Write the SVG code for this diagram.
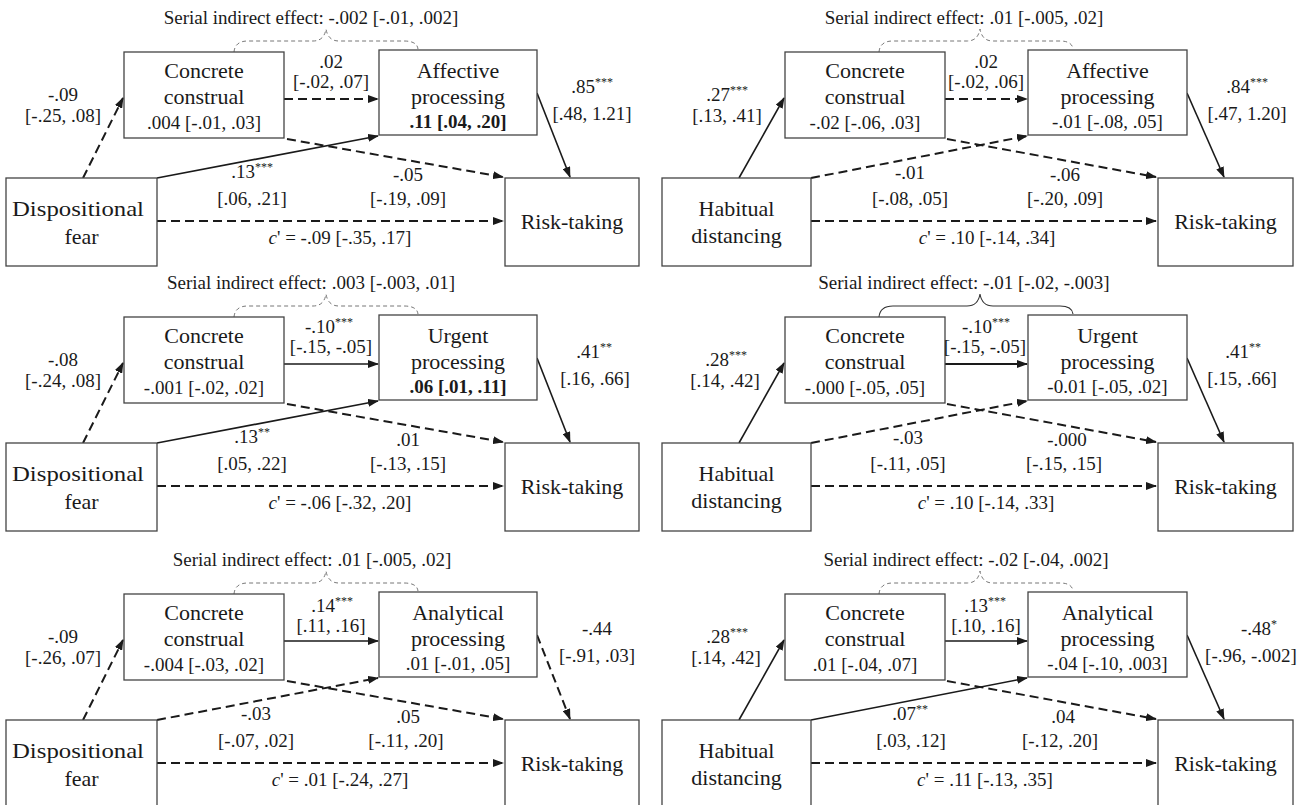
<svg xmlns="http://www.w3.org/2000/svg" width="1298" height="805" viewBox="0 0 1298 805">
<defs>
<marker id="ah" markerUnits="userSpaceOnUse" markerWidth="11" markerHeight="8" viewBox="0 0 11 8" refX="10" refY="4" orient="auto">
<path d="M0,0 L11,4 L0,8 z" fill="#1a1a1a"/>
</marker>
<style>
.box{fill:#fff;stroke:#444;stroke-width:1.3}
text{font-family:"Liberation Serif","Times New Roman",serif;fill:#1a1a1a}
.bt{font-size:22px;text-anchor:middle}
.lb{font-size:19px;text-anchor:middle}
.b{font-weight:bold}
.sp{font-size:12px}
.dash{fill:none;stroke:#1a1a1a;stroke-width:2;stroke-dasharray:9 5;marker-end:url(#ah)}
.solid{fill:none;stroke:#1a1a1a;stroke-width:1.6;marker-end:url(#ah)}
.thick{stroke-width:2.2}
.brace{fill:none;stroke:#777;stroke-width:1;stroke-dasharray:4 3}
.brace-s{fill:none;stroke:#333;stroke-width:1.1}
</style>
</defs>
<rect width="1298" height="805" fill="#fff"/>

<!-- ===== Row 1 Left ===== -->
<g id="panel-1L">
<text class="lb" x="311" y="24">Serial indirect effect: -.002 [-.01, .002]</text>
<path class="brace" d="M234,52 Q235,41 248,41 L313,41 Q324,41 326,29 Q328,41 339,41 L404,41 Q417,41 418,49"/>
<g id="p1L-edges">
<path class="dash" d="M83,178 L123,98"/>
<path class="dash" d="M284,99 L378,99"/>
<path class="solid" d="M157,178 L378,136"/>
<path class="dash" d="M287,139 L503,177"/>
<path class="solid" d="M537,93 L570,177"/>
<path class="dash" d="M157,221 L503,221"/>
</g>
<g id="p1L-x"><rect class="box" x="6" y="178" width="151" height="88"/><text class="bt" x="78" y="216" textLength="132" lengthAdjust="spacingAndGlyphs">Dispositional</text><text class="bt" x="81.5" y="244">fear</text></g>
<g id="p1L-m1"><rect class="box" x="124" y="52" width="160" height="86"/><text class="bt" x="204" y="78">Concrete</text><text class="bt" x="204" y="104">construal</text><text class="lb" x="204" y="129">.004 [-.01, .03]</text></g>
<g id="p1L-m2"><rect class="box" x="379" y="50" width="158" height="85"/><text class="bt" x="458" y="78">Affective</text><text class="bt" x="458" y="104">processing</text><text class="lb b" x="458" y="128">.11 [.04, .20]</text></g>
<g id="p1L-y"><rect class="box" x="505" y="178" width="134" height="88"/><text class="bt" x="572" y="229">Risk-taking</text></g>
<g id="p1L-labels">
<text class="lb" x="63" y="101">-.09</text><text class="lb" x="63" y="122">[-.25, .08]</text>
<text class="lb" x="331" y="68">.02</text><text class="lb" x="331" y="88">[-.02, .07]</text>
<text class="lb" x="252" y="178">.13<tspan class="sp" dy="-7">***</tspan></text><text class="lb" x="252" y="205">[.06, .21]</text>
<text class="lb" x="408" y="181">-.05</text><text class="lb" x="408" y="205">[-.19, .09]</text>
<text class="lb" x="592" y="93">.85<tspan class="sp" dy="-7">***</tspan></text><text class="lb" x="592" y="120">[.48, 1.21]</text>
<text class="lb" x="340" y="244"><tspan font-style="italic">c</tspan>' = -.09 [-.35, .17]</text>
</g>
</g>

<!-- ===== Row 1 Right ===== -->
<g id="panel-1R">
<text class="lb" x="964" y="24">Serial indirect effect: .01 [-.005, .02]</text>
<path class="brace" d="M879,52 Q880,41 893,41 L967,41 Q978,41 980,29 Q982,41 993,41 L1060,41 Q1072,41 1073,49"/>
<g id="p1R-edges">
<path class="solid" d="M739,178 L784,98"/>
<path class="dash" d="M945,99 L1027,99"/>
<path class="dash" d="M811,178 L1027,136"/>
<path class="dash" d="M947,139 L1156,177"/>
<path class="solid" d="M1187,93 L1224,177"/>
<path class="dash" d="M811,221 L1156,221"/>
</g>
<g id="p1R-x"><rect class="box" x="662" y="178" width="149" height="88"/><text class="bt" x="736.5" y="216">Habitual</text><text class="bt" x="736.5" y="243">distancing</text></g>
<g id="p1R-m1"><rect class="box" x="785" y="52" width="160" height="86"/><text class="bt" x="865" y="78">Concrete</text><text class="bt" x="865" y="104">construal</text><text class="lb" x="865" y="129">-.02 [-.06, .03]</text></g>
<g id="p1R-m2"><rect class="box" x="1028" y="50" width="159" height="85"/><text class="bt" x="1107.5" y="78">Affective</text><text class="bt" x="1107.5" y="104">processing</text><text class="lb" x="1107.5" y="128">-.01 [-.08, .05]</text></g>
<g id="p1R-y"><rect class="box" x="1158" y="178" width="135" height="88"/><text class="bt" x="1225.5" y="229">Risk-taking</text></g>
<g id="p1R-labels">
<text class="lb" x="727" y="101">.27<tspan class="sp" dy="-7">***</tspan></text><text class="lb" x="727" y="122">[.13, .41]</text>
<text class="lb" x="986" y="68">.02</text><text class="lb" x="986" y="88">[-.02, .06]</text>
<text class="lb" x="910" y="179">-.01</text><text class="lb" x="910" y="205">[-.08, .05]</text>
<text class="lb" x="1065" y="181">-.06</text><text class="lb" x="1065" y="205">[-.20, .09]</text>
<text class="lb" x="1247" y="93">.84<tspan class="sp" dy="-7">***</tspan></text><text class="lb" x="1247" y="120">[.47, 1.20]</text>
<text class="lb" x="987" y="244"><tspan font-style="italic">c</tspan>' = .10 [-.14, .34]</text>
</g>
</g>

<!-- ===== Row 2 Left ===== -->
<g id="panel-2L" transform="translate(0,265)">
<text class="lb" x="311" y="24">Serial indirect effect: .003 [-.003, .01]</text>
<path class="brace" d="M234,52 Q235,41 248,41 L313,41 Q324,41 326,29 Q328,41 339,41 L404,41 Q417,41 418,49"/>
<g id="p2L-edges">
<path class="dash" d="M83,178 L123,98"/>
<path class="solid" d="M284,99 L378,99"/>
<path class="solid" d="M157,178 L378,136"/>
<path class="dash" d="M287,139 L503,177"/>
<path class="solid" d="M537,93 L570,177"/>
<path class="dash" d="M157,221 L503,221"/>
</g>
<g id="p2L-x"><rect class="box" x="6" y="178" width="151" height="88"/><text class="bt" x="78" y="216" textLength="132" lengthAdjust="spacingAndGlyphs">Dispositional</text><text class="bt" x="81.5" y="244">fear</text></g>
<g id="p2L-m1"><rect class="box" x="124" y="52" width="160" height="86"/><text class="bt" x="204" y="78">Concrete</text><text class="bt" x="204" y="104">construal</text><text class="lb" x="204" y="129">-.001 [-.02, .02]</text></g>
<g id="p2L-m2"><rect class="box" x="379" y="50" width="158" height="85"/><text class="bt" x="458" y="78">Urgent</text><text class="bt" x="458" y="104">processing</text><text class="lb b" x="458" y="128">.06 [.01, .11]</text></g>
<g id="p2L-y"><rect class="box" x="505" y="178" width="134" height="88"/><text class="bt" x="572" y="229">Risk-taking</text></g>
<g id="p2L-labels">
<text class="lb" x="63" y="101">-.08</text><text class="lb" x="63" y="122">[-.24, .08]</text>
<text class="lb" x="329" y="68">-.10<tspan class="sp" dy="-7">***</tspan></text><text class="lb" x="331" y="88">[-.15, -.05]</text>
<text class="lb" x="252" y="178">.13<tspan class="sp" dy="-7">**</tspan></text><text class="lb" x="252" y="205">[.05, .22]</text>
<text class="lb" x="408" y="181">.01</text><text class="lb" x="408" y="205">[-.13, .15]</text>
<text class="lb" x="594" y="93">.41<tspan class="sp" dy="-7">**</tspan></text><text class="lb" x="595" y="120">[.16, .66]</text>
<text class="lb" x="340" y="244"><tspan font-style="italic">c</tspan>' = -.06 [-.32, .20]</text>
</g>
</g>

<!-- ===== Row 2 Right ===== -->
<g id="panel-2R" transform="translate(0,265)">
<text class="lb" x="964" y="24">Serial indirect effect: -.01 [-.02, -.003]</text>
<path class="brace-s" d="M879,52 Q880,41 893,41 L967,41 Q978,41 980,29 Q982,41 993,41 L1060,41 Q1072,41 1073,49"/>
<g id="p2R-edges">
<path class="solid" d="M739,178 L784,98"/>
<path class="solid thick" d="M945,99 L1027,99"/>
<path class="dash" d="M811,178 L1027,136"/>
<path class="dash" d="M947,139 L1156,177"/>
<path class="solid" d="M1187,93 L1224,177"/>
<path class="dash" d="M811,221 L1156,221"/>
</g>
<g id="p2R-x"><rect class="box" x="662" y="178" width="149" height="88"/><text class="bt" x="736.5" y="216">Habitual</text><text class="bt" x="736.5" y="243">distancing</text></g>
<g id="p2R-m1"><rect class="box" x="785" y="52" width="160" height="86"/><text class="bt" x="865" y="78">Concrete</text><text class="bt" x="865" y="104">construal</text><text class="lb" x="865" y="129">-.000 [-.05, .05]</text></g>
<g id="p2R-m2"><rect class="box" x="1028" y="50" width="159" height="85"/><text class="bt" x="1107.5" y="78">Urgent</text><text class="bt" x="1107.5" y="104">processing</text><text class="lb" x="1107.5" y="128">-0.01 [-.05, .02]</text></g>
<g id="p2R-y"><rect class="box" x="1158" y="178" width="135" height="88"/><text class="bt" x="1225.5" y="229">Risk-taking</text></g>
<g id="p2R-labels">
<text class="lb" x="726" y="101">.28<tspan class="sp" dy="-7">***</tspan></text><text class="lb" x="725" y="122">[.14, .42]</text>
<text class="lb" x="986" y="68">-.10<tspan class="sp" dy="-7">***</tspan></text><text class="lb" x="985" y="88">[-.15, -.05]</text>
<text class="lb" x="908" y="179">-.03</text><text class="lb" x="908" y="205">[-.11, .05]</text>
<text class="lb" x="1067" y="181">-.000</text><text class="lb" x="1064" y="205">[-.15, .15]</text>
<text class="lb" x="1243" y="93">.41<tspan class="sp" dy="-7">**</tspan></text><text class="lb" x="1242" y="120">[.15, .66]</text>
<text class="lb" x="986" y="244"><tspan font-style="italic">c</tspan>' = .10 [-.14, .33]</text>
</g>
</g>

<!-- ===== Row 3 Left ===== -->
<g id="panel-3L" transform="translate(0,542)">
<text class="lb" x="312" y="24">Serial indirect effect: .01 [-.005, .02]</text>
<path class="brace" d="M234,52 Q235,41 248,41 L313,41 Q324,41 326,29 Q328,41 339,41 L404,41 Q417,41 418,49"/>
<g id="p3L-edges">
<path class="dash" d="M83,178 L123,98"/>
<path class="solid" d="M284,99 L378,99"/>
<path class="dash" d="M157,178 L378,136"/>
<path class="dash" d="M287,139 L503,177"/>
<path class="dash" d="M537,93 L570,177"/>
<path class="dash" d="M157,221 L503,221"/>
</g>
<g id="p3L-x"><rect class="box" x="6" y="178" width="151" height="88"/><text class="bt" x="78" y="216" textLength="132" lengthAdjust="spacingAndGlyphs">Dispositional</text><text class="bt" x="81.5" y="244">fear</text></g>
<g id="p3L-m1"><rect class="box" x="124" y="52" width="160" height="86"/><text class="bt" x="204" y="78">Concrete</text><text class="bt" x="204" y="104">construal</text><text class="lb" x="204" y="129">-.004 [-.03, .02]</text></g>
<g id="p3L-m2"><rect class="box" x="379" y="50" width="158" height="85"/><text class="bt" x="458" y="78">Analytical</text><text class="bt" x="458" y="104">processing</text><text class="lb" x="458" y="128">.01 [-.01, .05]</text></g>
<g id="p3L-y"><rect class="box" x="505" y="178" width="134" height="88"/><text class="bt" x="572" y="229">Risk-taking</text></g>
<g id="p3L-labels">
<text class="lb" x="63" y="101">-.09</text><text class="lb" x="63" y="122">[-.26, .07]</text>
<text class="lb" x="332" y="70">.14<tspan class="sp" dy="-7">***</tspan></text><text class="lb" x="331" y="90">[.11, .16]</text>
<text class="lb" x="256" y="178">-.03</text><text class="lb" x="256" y="205">[-.07, .02]</text>
<text class="lb" x="408" y="181">.05</text><text class="lb" x="406" y="205">[-.11, .20]</text>
<text class="lb" x="597" y="93">-.44</text><text class="lb" x="597" y="120">[-.91, .03]</text>
<text class="lb" x="340" y="244"><tspan font-style="italic">c</tspan>' = .01 [-.24, .27]</text>
</g>
</g>

<!-- ===== Row 3 Right ===== -->
<g id="panel-3R" transform="translate(0,542)">
<text class="lb" x="966" y="24">Serial indirect effect: -.02 [-.04, .002]</text>
<path class="brace" d="M879,52 Q880,41 893,41 L967,41 Q978,41 980,29 Q982,41 993,41 L1060,41 Q1072,41 1073,49"/>
<g id="p3R-edges">
<path class="solid" d="M739,178 L784,98"/>
<path class="solid" d="M945,99 L1027,99"/>
<path class="solid" d="M811,178 L1027,136"/>
<path class="dash" d="M947,139 L1156,177"/>
<path class="solid" d="M1187,93 L1224,177"/>
<path class="dash" d="M811,221 L1156,221"/>
</g>
<g id="p3R-x"><rect class="box" x="662" y="178" width="149" height="88"/><text class="bt" x="736.5" y="216">Habitual</text><text class="bt" x="736.5" y="243">distancing</text></g>
<g id="p3R-m1"><rect class="box" x="785" y="52" width="160" height="86"/><text class="bt" x="865" y="78">Concrete</text><text class="bt" x="865" y="104">construal</text><text class="lb" x="865" y="129">.01 [-.04, .07]</text></g>
<g id="p3R-m2"><rect class="box" x="1028" y="50" width="159" height="85"/><text class="bt" x="1107.5" y="78">Analytical</text><text class="bt" x="1107.5" y="104">processing</text><text class="lb" x="1107.5" y="128">-.04 [-.10, .003]</text></g>
<g id="p3R-y"><rect class="box" x="1158" y="178" width="135" height="88"/><text class="bt" x="1225.5" y="229">Risk-taking</text></g>
<g id="p3R-labels">
<text class="lb" x="727" y="101">.28<tspan class="sp" dy="-7">***</tspan></text><text class="lb" x="726" y="122">[.14, .42]</text>
<text class="lb" x="985" y="70">.13<tspan class="sp" dy="-7">***</tspan></text><text class="lb" x="986" y="90">[.10, .16]</text>
<text class="lb" x="910" y="178">.07<tspan class="sp" dy="-7">**</tspan></text><text class="lb" x="911" y="205">[.03, .12]</text>
<text class="lb" x="1063" y="181">.04</text><text class="lb" x="1060" y="205">[-.12, .20]</text>
<text class="lb" x="1259" y="93">-.48<tspan class="sp" dy="-7">*</tspan></text><text class="lb" x="1251" y="120">[-.96, -.002]</text>
<text class="lb" x="985" y="244"><tspan font-style="italic">c</tspan>' = .11 [-.13, .35]</text>
</g>
</g>
</svg>
